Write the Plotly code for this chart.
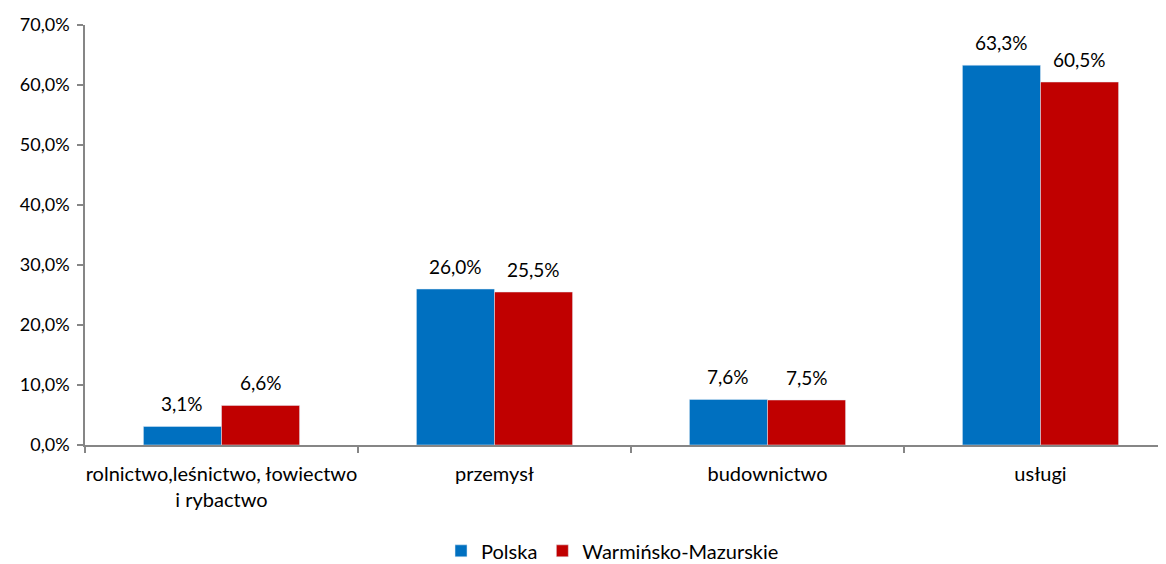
import plotly.graph_objects as go

categories = ["rolnictwo,leśnictwo, łowiectwo<br>i rybactwo", "przemysł", "budownictwo", "usługi"]
polska = [3.1, 26.0, 7.6, 63.3]
warminsko = [6.6, 25.5, 7.5, 60.5]
series_names = ["Polska", "Warmińsko-Mazurskie"]
y_ticks = [0, 10, 20, 30, 40, 50, 60, 70]

FONT = "Lato, 'Open Sans', sans-serif"
BLUE = "#0070C0"
RED = "#C00000"
AXIS = "#868686"
NUM_SIZE = 18
LABEL_SIZE = 19
WORD_SIZE = 20

fig = go.Figure()
fig.add_trace(go.Bar(x=categories, y=polska, name=series_names[0], marker_color=BLUE))
fig.add_trace(go.Bar(x=categories, y=warminsko, name=series_names[1], marker_color=RED))

half = 0.143
for i, (a, b) in enumerate(zip(polska, warminsko)):
    for xv, val in ((i - half, a), (i + half, b)):
        fig.add_annotation(x=xv, y=val, text=f"{val:.1f}%".replace(".", ","),
                           showarrow=False, yanchor="middle", yshift=23,
                           font=dict(family=FONT, size=LABEL_SIZE, color="#000"))

fig.update_layout(
    width=1158, height=556,
    margin=dict(l=77, r=0, t=17, b=119, autoexpand=False),
    paper_bgcolor="white", plot_bgcolor="white",
    barmode="group", bargap=0.428, bargroupgap=0,
    separators=", ",
    font=dict(family=FONT, size=WORD_SIZE, color="#000"),
    showlegend=True,
    legend=dict(orientation="h", x=0.488, xanchor="center", y=-0.252, yanchor="middle",
                font=dict(family=FONT, size=WORD_SIZE), traceorder="normal",
                itemwidth=30, tracegroupgap=0),
)
fig.update_xaxes(type="category", range=[-0.5, -0.5 + 1081 / 273], automargin=False,
                 showline=True, linecolor=AXIS, linewidth=1.5,
                 ticks="outside", ticklen=6, tickcolor=AXIS, tickwidth=1.5,
                 tickson="boundaries", showgrid=False, ticklabelstandoff=10,
                 tickangle=0,
                 tickfont=dict(family=FONT, size=WORD_SIZE))
fig.update_yaxes(range=[0, 70], tickvals=y_ticks, automargin=False,
                 ticktext=[f"{v:.1f}%".replace(".", ",") for v in y_ticks],
                 showline=True, linecolor=AXIS, linewidth=1.5,
                 ticks="outside", ticklen=6, tickcolor=AXIS, tickwidth=1.5,
                 showgrid=False, zeroline=False, ticklabelstandoff=4,
                 tickfont=dict(family=FONT, size=NUM_SIZE))

fig.write_html("out.html")
